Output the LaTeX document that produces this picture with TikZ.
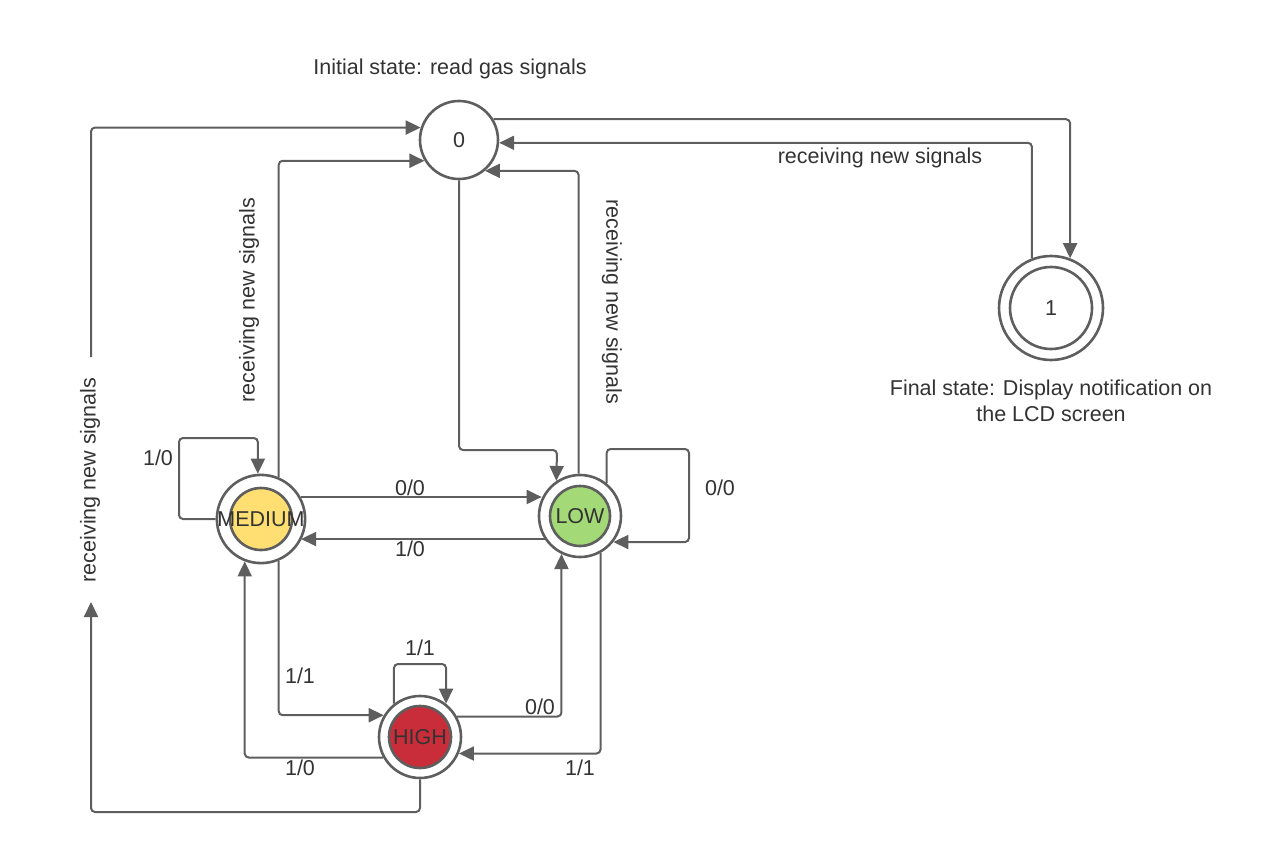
\documentclass[tikz,border=0pt]{standalone}
\usepackage{fontspec}
\setmainfont{Liberation Sans}
\usetikzlibrary{arrows.meta,calc}
\definecolor{lc}{HTML}{5E5E5E}
\definecolor{tc}{HTML}{333333}
\definecolor{cyel}{HTML}{FFDF71}
\definecolor{cgrn}{HTML}{A3D977}
\definecolor{cred}{HTML}{C92D39}
\begin{document}
\begin{tikzpicture}[x=1pt,y=-1pt,
  conn/.style={draw=lc, line width=2pt, rounded corners=4pt},
  arr/.style={conn, -{Triangle[length=15pt,width=14pt]}},
  lbl/.style={font=\fontsize{21.5}{26}\selectfont, text=tc, inner sep=0pt},
  state/.style={circle, draw=lc, line width=2.6pt, fill=white, inner sep=0pt, font=\fontsize{21.5}{26}\selectfont, text=tc},
  accst/.style 2 args={state, minimum size=82pt,
    path picture={\draw[lc, line width=2.6pt, fill=#1] (path picture bounding box.center) circle[radius=#2];}}
]
\useasboundingbox (0,0) rectangle (1263,853);

% states
\node[state, minimum size=78pt] (Z) at (459,140) {0};
\node[state, minimum size=104pt,
  path picture={\draw[lc, line width=2.6pt] (path picture bounding box.center) circle[radius=41pt];}] (F) at (1051,308) {1};
\node[accst={cyel}{31pt}] (M) at (261,519) {MEDIUM};
\node[accst={cgrn}{30pt}] (L) at (580,516) {LOW};
\node[accst={cred}{31pt}] (H) at (420,737) {HIGH};

% texts
\node[lbl] (t0) at (450,69) {Initial state: read gas signals};
\node[lbl, align=center] (t1) at (1051,401) {Final state: Display notification on\\the LCD screen};

% 0 <-> 1
\draw[arr] (Z.31) -| (F.69);
\draw[arr] (F.111) |- (Z.-4);
\node[lbl] (r1) at (880,158) {receiving new signals};

% 0 <-> LOW
\draw[arr] (Z.south) |- (557,450) -- (L.124);
\draw[arr] (L.92) |- (Z.-50);
\node[lbl, rotate=-90] (r2) at (612,302) {receiving new signals};

% MEDIUM -> 0
\draw[arr] (M.67) |- (Z.211);
\node[lbl, rotate=90] (r3) at (249,300) {receiving new signals};

% HIGH -> 0 (outer)
\coordinate (la) at (91,602);
\coordinate (lb) at (91,357);
\draw[arr] (H.south) |- (91,812) -- (la);
\draw[arr] (lb) |- (Z.162);
\node[lbl, rotate=90] (r4) at (90,480) {receiving new signals};

% MEDIUM loop
\draw[arr] (M.180) -| (179,438) -| (M.94);
\node[lbl] (l1) at (158,458) {1/0};

% MEDIUM <-> LOW
\draw[arr] (M.29) -- (M.29 -| L.155);
\node[lbl] (l2) at (410,488) {0/0};
\draw[arr] (L.213) -- (L.213 -| M.-28);
\node[lbl] (l3) at (410,549) {1/0};

% LOW loop
\draw[arr] (L.51) |- (689,449) |- (L.-38);
\node[lbl] (l4) at (720,488) {0/0};

% MEDIUM <-> HIGH
\draw[arr] (M.-67) |- (H.149);
\node[lbl] (l5) at (300,676) {1/1};
\draw[arr] (H.209) -| (M.-111);
\node[lbl] (l6) at (300,768) {1/0};

% HIGH <-> LOW
\draw[arr] (H.29) -| (L.-116);
\node[lbl] (l7) at (540,707) {0/0};
\draw[arr] (L.-61) |- (H.-23);
\node[lbl] (l8) at (580,768) {1/1};

% HIGH loop
\draw[arr] (H.128) -- (H.128 |- 0,664) -| (H.52);
\node[lbl] (l9) at (420,648) {1/1};
\end{tikzpicture}
\end{document}
